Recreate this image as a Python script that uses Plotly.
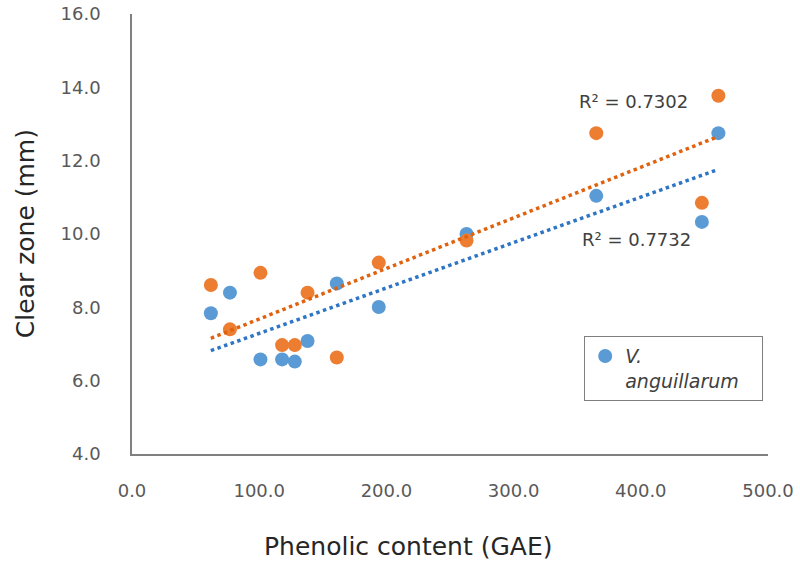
import numpy as np
import plotly.graph_objects as go

# Data
phenolic = [62, 77, 101, 118, 128, 138, 161, 194, 263, 365, 448, 461]
clear_blue = [7.84, 8.40, 6.58, 6.58, 6.52, 7.08, 8.65, 8.01, 10.0, 11.04, 10.33, 12.75]
clear_orange = [8.61, 7.40, 8.94, 6.97, 6.97, 8.40, 6.63, 9.22, 9.82, 12.75, 10.85, 13.77]
r2_orange_label = "R² = 0.7302"
r2_blue_label = "R² = 0.7732"
x_ticks = [0, 100, 200, 300, 400, 500]
y_ticks = [4, 6, 8, 10, 12, 14, 16]

BLUE = "#5B9BD5"
ORANGE = "#ED7D31"
BLUE_T = "#2E75C6"
ORANGE_T = "#E0620F"
FONT = "DejaVu Sans"

def trend(xs, ys):
    m, b = np.polyfit(xs, ys, 1)
    xx = np.array([min(xs), max(xs)])
    return xx, m * xx + b

fig = go.Figure()
fig.add_trace(go.Scatter(x=phenolic, y=clear_blue, mode="markers",
                         marker=dict(color=BLUE, size=14),
                         name="<i>V.<br>anguillarum</i>&nbsp;&nbsp;&nbsp;",
                         showlegend=True))
fig.add_trace(go.Scatter(x=phenolic, y=clear_orange, mode="markers",
                         marker=dict(color=ORANGE, size=14),
                         name="orange", showlegend=False))
bx, by = trend(phenolic, clear_blue)
ox, oy = trend(phenolic, clear_orange)
fig.add_trace(go.Scatter(x=bx, y=by, mode="lines",
                         line=dict(color=BLUE_T, width=3.5, dash="dot"),
                         showlegend=False, hoverinfo="skip"))
fig.add_trace(go.Scatter(x=ox, y=oy, mode="lines",
                         line=dict(color=ORANGE_T, width=3.5, dash="dot"),
                         showlegend=False, hoverinfo="skip"))

fig.add_annotation(x=394, y=13.62, xref="x", yref="y", text=r2_orange_label,
                   showarrow=False, font=dict(family=FONT, size=18, color="#404040"))
fig.add_annotation(x=397, y=9.86, xref="x", yref="y", text=r2_blue_label,
                   showarrow=False, font=dict(family=FONT, size=18, color="#404040"))

# Axis titles as annotations (positions matching reference)
fig.add_annotation(x=0.434, y=-0.211, xref="paper", yref="paper",
                   xanchor="center", yanchor="middle",
                   text="Phenolic content (GAE)", showarrow=False,
                   font=dict(family=FONT, size=25, color="#262626"))
fig.add_annotation(x=-0.168, y=0.5, xref="paper", yref="paper",
                   xanchor="center", yanchor="middle",
                   text="Clear zone (mm)", showarrow=False, textangle=-90,
                   font=dict(family=FONT, size=25, color="#262626"))

fig.update_layout(
    width=800, height=563,
    margin=dict(l=132, r=32, t=14, b=109),
    paper_bgcolor="white", plot_bgcolor="white",
    font=dict(family=FONT, color="#595959"),
    legend=dict(x=0.711, y=0.268, xanchor="left", yanchor="top",
                bordercolor="#7F7F7F", borderwidth=1, bgcolor="white",
                font=dict(family=FONT, size=19, color="#404040"),
                valign="top", itemwidth=30),
)
fig.update_xaxes(range=[0, 500], tickvals=x_ticks, tickformat=".1f",
                 showgrid=False, zeroline=False, showline=True,
                 linecolor="#808080", linewidth=1.5, automargin=False,
                 ticks="outside", ticklen=20, tickcolor="rgba(0,0,0,0)",
                 tickfont=dict(family=FONT, size=18, color="#595959"))
fig.update_yaxes(range=[4, 16], tickvals=y_ticks, tickformat=".1f",
                 showgrid=False, zeroline=False, showline=True,
                 linecolor="#808080", linewidth=1.5, automargin=False,
                 ticks="outside", ticklen=26, tickcolor="rgba(0,0,0,0)",
                 tickfont=dict(family=FONT, size=18, color="#595959"))

fig.write_html("out.html",
               config={"displayModeBar": False},
               post_script="document.body.style.margin='0';document.body.style.overflow='hidden';")
